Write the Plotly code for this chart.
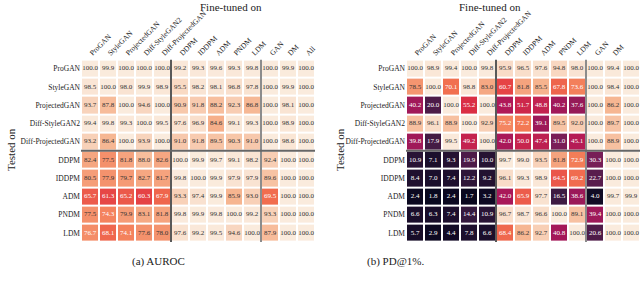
import plotly.graph_objects as go

cols = ["ProGAN", "StyleGAN", "ProjectedGAN", "Diff-StyleGAN2", "Diff-ProjectedGAN",
        "DDPM", "IDDPM", "ADM", "PNDM", "LDM", "GAN", "DM", "All"]
rows = ["ProGAN", "StyleGAN", "ProjectedGAN", "Diff-StyleGAN2", "Diff-ProjectedGAN",
        "DDPM", "IDDPM", "ADM", "PNDM", "LDM"]

auroc = [
    [100.0, 99.9, 100.0, 100.0, 100.0, 99.2, 99.3, 99.6, 99.3, 99.8, 100.0, 99.9, 100.0],
    [98.5, 100.0, 98.0, 99.9, 98.9, 95.5, 98.2, 98.1, 96.8, 97.8, 100.0, 99.9, 100.0],
    [93.7, 87.8, 100.0, 94.6, 100.0, 90.9, 91.8, 88.2, 92.3, 86.8, 100.0, 98.1, 100.0],
    [99.4, 99.8, 99.3, 100.0, 99.5, 97.6, 96.9, 84.6, 99.1, 99.3, 100.0, 98.9, 100.0],
    [93.2, 86.4, 100.0, 93.9, 100.0, 91.0, 91.8, 89.5, 90.3, 91.0, 100.0, 98.6, 100.0],
    [82.4, 77.5, 81.8, 88.0, 82.6, 100.0, 99.9, 99.7, 99.1, 98.2, 92.4, 100.0, 100.0],
    [80.5, 77.9, 79.7, 82.7, 81.7, 99.8, 100.0, 99.9, 97.9, 97.9, 89.6, 100.0, 100.0],
    [65.7, 61.3, 65.2, 60.3, 67.9, 93.3, 97.4, 99.9, 85.9, 93.0, 69.5, 100.0, 100.0],
    [77.5, 74.3, 79.9, 83.1, 81.8, 99.8, 99.9, 99.8, 100.0, 99.2, 93.3, 100.0, 100.0],
    [76.7, 68.1, 74.1, 77.6, 78.0, 97.6, 99.2, 99.5, 94.6, 100.0, 87.9, 100.0, 100.0],
]

pd1 = [
    [100.0, 98.9, 99.4, 100.0, 99.8, 95.9, 96.5, 97.6, 94.8, 98.0, 100.0, 99.4, 100.0],
    [78.5, 100.0, 70.1, 98.8, 83.0, 60.7, 81.8, 85.5, 67.8, 73.6, 100.0, 98.4, 100.0],
    [40.2, 20.0, 100.0, 55.2, 100.0, 43.8, 51.7, 48.8, 40.2, 37.6, 100.0, 86.2, 100.0],
    [88.9, 96.1, 88.9, 100.0, 92.9, 75.2, 72.2, 39.1, 89.5, 92.0, 100.0, 89.7, 100.0],
    [39.8, 17.9, 99.5, 49.2, 100.0, 42.0, 50.0, 47.4, 31.0, 45.1, 100.0, 88.9, 100.0],
    [10.9, 7.1, 9.3, 19.9, 10.0, 99.7, 99.0, 93.5, 81.8, 72.9, 30.3, 100.0, 100.0],
    [8.4, 7.0, 7.4, 12.2, 9.2, 96.1, 99.3, 98.9, 64.5, 69.2, 22.7, 100.0, 100.0],
    [2.4, 1.8, 2.4, 1.7, 3.2, 42.0, 65.9, 97.7, 16.5, 38.6, 4.0, 99.7, 99.9],
    [6.6, 6.3, 7.4, 14.4, 10.9, 96.7, 98.7, 96.6, 100.0, 89.1, 39.4, 100.0, 100.0],
    [5.7, 2.9, 4.4, 7.8, 6.6, 68.4, 86.2, 92.7, 40.8, 100.0, 20.6, 100.0, 100.0],
]

rocket = [[0.0, "#03051a"], [0.143, "#35193e"], [0.286, "#701f57"], [0.429, "#ad1759"],
          [0.571, "#e13342"], [0.714, "#f37651"], [0.857, "#f6b48f"], [1.0, "#faebdd"]]

FONT = "Liberation Serif"
W, H = 640, 288


def px(x):
    return x / W


def py(y):
    return 1 - y / H


fig = go.Figure()

panels = [
    (auroc, "x", "y", (81, 315)),
    (pd1, "x2", "y2", (406, 640)),
]

ytop, ybot = 59.6, 242.0

for i, (data, xa, ya, (x0, x1)) in enumerate(panels):
    ci = list(range(len(cols)))
    ri = list(range(len(rows)))
    fig.add_trace(go.Heatmap(
        z=data, x=ci, y=ri, colorscale=rocket, zmin=0, zmax=100,
        showscale=False, xgap=2, ygap=2, xaxis=xa, yaxis=ya, hoverinfo="skip"))
    tx, ty, tt, tc = [], [], [], []
    for r in ri:
        for c in ci:
            v = data[r][c]
            tx.append(c); ty.append(r); tt.append(f"{v:.1f}")
            tc.append("white" if v < 77 else "#333333")
    fig.add_trace(go.Scatter(
        x=tx, y=ty, text=tt, mode="text", xaxis=xa, yaxis=ya, cliponaxis=False,
        textfont=dict(family=FONT, size=7, color=tc), hoverinfo="skip", showlegend=False))
    suffix = "" if i == 0 else "2"
    fig.update_layout(**{
        "xaxis" + suffix: dict(domain=[px(x0), min(px(x1), 1.0)], range=[-0.5, 12.5], side="top",
                               tickvals=ci, ticktext=cols, tickangle=-45, showgrid=False,
                               zeroline=False, ticks="", ticklen=0, automargin=False,
                               tickfont=dict(family=FONT, size=7.5, color="#222"),
                               anchor=ya),
        "yaxis" + suffix: dict(domain=[py(ybot), py(ytop)], range=[9.5, -0.5],
                               tickvals=ri, ticktext=rows, showgrid=False, zeroline=False,
                               ticks="", automargin=False,
                               tickfont=dict(family=FONT, size=7.5, color="#222"),
                               anchor=xa),
    })
    xr = "x" + ("" if i == 0 else "2")
    yr = "y" + ("" if i == 0 else "2")
    fig.add_shape(type="line", xref=xr, yref=yr, x0=4.5, x1=4.5, y0=-0.5, y1=9.5,
                  line=dict(color="#222222", width=1.5))
    fig.add_shape(type="line", xref=xr, yref=yr, x0=9.5, x1=9.5, y0=-0.5, y1=9.5,
                  line=dict(color="#666666", width=1.5))
    fig.add_shape(type="line", xref=xr, yref=yr, x0=-0.5, x1=12.5, y0=4.5, y1=4.5,
                  line=dict(color="#666666", width=2))
    fig.add_annotation(text="Fine-tuned on", xref="paper", yref="paper",
                       x=px((x0 + x1) / 2), y=py(7), yanchor="middle", showarrow=False,
                       font=dict(family=FONT, size=11, color="#222"))

fig.add_annotation(text="Tested on", xref="paper", yref="paper", x=px(11), y=py(150),
                   xanchor="center", yanchor="middle",
                   textangle=-90, showarrow=False, font=dict(family=FONT, size=11, color="#222"))
fig.add_annotation(text="Tested on", xref="paper", yref="paper", x=px(340), y=py(150),
                   xanchor="center", yanchor="middle",
                   textangle=-90, showarrow=False, font=dict(family=FONT, size=11, color="#222"))
fig.add_annotation(text="(a) AUROC", xref="paper", yref="paper", x=px(130), y=py(261),
                   yanchor="middle", showarrow=False, font=dict(family=FONT, size=11, color="#222"))
fig.add_annotation(text="(b) PD@1%.", xref="paper", yref="paper", x=px(395), y=py(261),
                   yanchor="middle", showarrow=False, font=dict(family=FONT, size=11, color="#222"))

fig.update_layout(width=W, height=H, margin=dict(l=0, r=0, t=0, b=0),
                  paper_bgcolor="white", plot_bgcolor="white", showlegend=False)

fig.write_html("out.html", config={"displayModeBar": False},
               post_script="document.body.style.margin='0';document.body.style.overflow='hidden';")
